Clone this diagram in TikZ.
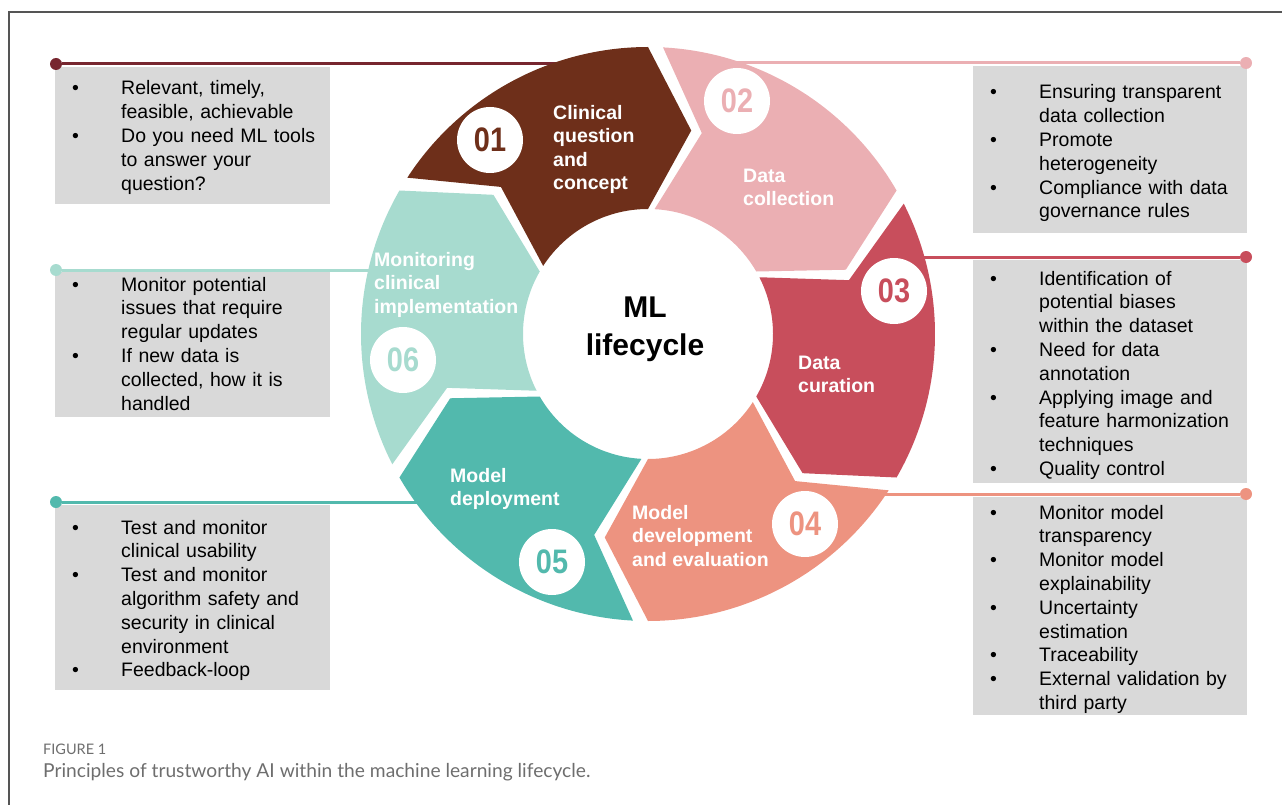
\documentclass[tikz,border=0pt]{standalone}
\usepackage{fontspec}
\setmainfont{Liberation Sans}
\newfontfamily\numfont[FakeStretch=0.85]{Liberation Sans}
\newfontfamily\capfont{Lato}

\definecolor{cbrown}{HTML}{6E2F1A}
\definecolor{cpink}{HTML}{EBAFB3}
\definecolor{cred}{HTML}{C84E5C}
\definecolor{csalmon}{HTML}{ED9380}
\definecolor{cteal}{HTML}{52B9AD}
\definecolor{cmint}{HTML}{A7DBCF}
\definecolor{cmaroon}{HTML}{77262F}
\definecolor{boxgray}{HTML}{D9D9D9}
\definecolor{framegray}{HTML}{555555}
\definecolor{capgray}{HTML}{6E6E6E}

% bullet line with hanging indent
\newcommand{\bitem}{\par\noindent\hangindent=66pt\hangafter=1%
  \makebox[66pt][l]{\rule{0pt}{16pt}\hspace{17pt}\textbullet}}

\tikzset{
  numcirc/.style={circle, fill=white, minimum size=66pt, inner sep=0pt,
    font=\numfont\bfseries\fontsize{34}{34}\selectfont},
  steplabel/.style={anchor=north west, inner sep=0pt, align=left, text=white,
    font=\bfseries\fontsize{19.5}{23.6}\selectfont},
  infobox/.style={fill=boxgray, anchor=north west, inner sep=0pt},
  infotext/.style={anchor=north west, inner sep=0pt, text width=270pt, align=left,
    font=\fontsize{19.5}{23.8}\selectfont},
  dot/.style={circle, inner sep=0pt, minimum size=12pt},
  link/.style={line width=3pt},
}

\begin{document}
\begin{tikzpicture}[x=1pt, y=1pt]
    \useasboundingbox (0,0) rectangle (1282,-805);
    \draw[framegray, line width=1.2pt] (9,-805) -- (9,-12) -- (1282,-12);

    % grey boxes with the bullet lists
    \node[infobox, minimum width=275pt, minimum height=137pt] (box1) at (55,-67) {};
    \node[infobox, minimum width=274pt, minimum height=167pt] (box2) at (973,-66) {};
    \node[infobox, minimum width=274pt, minimum height=223pt] (box3) at (973,-260) {};
    \node[infobox, minimum width=274pt, minimum height=218pt] (box4) at (973,-497) {};
    \node[infobox, minimum width=275pt, minimum height=185pt] (box5) at (55,-505) {};
    \node[infobox, minimum width=275pt, minimum height=145pt] (box6) at (55,-272) {};

    \node[infotext] (txt1) at (55,-71) {\bitem Relevant, timely,\newline feasible, achievable
        \bitem Do you need ML tools\newline to answer your\newline question?\par};
    \node[infotext] (txt2) at (973,-75) {\bitem Ensuring transparent\newline data collection
        \bitem Promote\newline heterogeneity \bitem Compliance with data\newline governance rules\par};
    \node[infotext] (txt3) at (973,-261) {\bitem Identification of\newline potential biases\newline within the dataset
        \bitem Need for data\newline annotation \bitem Applying image and\newline feature harmonization\newline techniques
        \bitem Quality control\par};
    \node[infotext] (txt4) at (973,-495) {\bitem Monitor model\newline transparency
        \bitem Monitor model\newline explainability \bitem Uncertainty\newline estimation
        \bitem Traceability \bitem External validation by\newline third party\par};
    \node[infotext] (txt5) at (55,-510) {\bitem Test and monitor\newline clinical usability
        \bitem Test and monitor\newline algorithm safety and\newline security in clinical\newline environment
        \bitem Feedback-loop\par};
    \node[infotext] (txt6) at (55,-267) {\bitem Monitor potential\newline issues that require\newline regular updates
        \bitem If new data is\newline collected, how it is\newline handled\par};

    % leader lines from the boxes into the ring
    \node[dot, fill=cmaroon] (dot1) at (56,-64) {};
    \node[dot, fill=cpink] (dot2) at (1246,-63) {};
    \node[dot, fill=cred] (dot3) at (1246,-257) {};
    \node[dot, fill=csalmon] (dot4) at (1246,-494) {};
    \node[dot, fill=cteal] (dot5) at (56,-502) {};
    \node[dot, fill=cmint] (dot6) at (56,-270) {};
    \coordinate (end1) at (600,-64);
    \coordinate (end2) at (700,-63);
    \coordinate (end3) at (900,-257);
    \coordinate (end4) at (850,-494);
    \coordinate (end5) at (440,-502);
    \coordinate (end6) at (400,-270);
    \draw[link, cmaroon] (dot1) -- (end1);
    \draw[link, cpink] (dot2) -- (end2);
    \draw[link, cred] (dot3) -- (end3);
    \draw[link, csalmon] (dot4) -- (end4);
    \draw[link, cteal] (dot5) -- (end5);
    \draw[link, cmint] (dot6) -- (end6);

    % ring of arrow segments, clockwise
    \begin{scope}[shift={(648,-334)}]
        \fill[cbrown] (147:287) arc[start angle=147, end angle=90, radius=287] -- (78:208)
            -- (90:125) arc[start angle=90, end angle=147, radius=125] -- (135:208) -- cycle;
        \fill[cpink] (87:287) arc[start angle=87, end angle=30, radius=287] -- (18:208)
            -- (30:125) arc[start angle=30, end angle=87, radius=125] -- (75:208) -- cycle;
        \fill[cred] (27:287) arc[start angle=27, end angle=-30, radius=287] -- (-42:208)
            -- (-30:125) arc[start angle=-30, end angle=27, radius=125] -- (15:208) -- cycle;
        \fill[csalmon] (-33:287) arc[start angle=-33, end angle=-90, radius=287] -- (-102:208)
            -- (-90:125) arc[start angle=-90, end angle=-33, radius=125] -- (-45:208) -- cycle;
        \fill[cteal] (-93:287) arc[start angle=-93, end angle=-150, radius=287] -- (-162:208)
            -- (-150:125) arc[start angle=-150, end angle=-93, radius=125] -- (-105:208) -- cycle;
        \fill[cmint] (-153:287) arc[start angle=-153, end angle=-210, radius=287] -- (-222:208)
            -- (-210:125) arc[start angle=-210, end angle=-153, radius=125] -- (-165:208) -- cycle;
    \end{scope}

    \node[numcirc, text=cbrown] (num1) at (490,-140) {01};
    \node[numcirc, text=cpink] (num2) at (737,-101) {02};
    \node[numcirc, text=cred] (num3) at (894,-291) {03};
    \node[numcirc, text=csalmon] (num4) at (805,-524) {04};
    \node[numcirc, text=cteal] (num5) at (552,-562) {05};
    \node[numcirc, text=cmint] (num6) at (403,-360) {06};

    \node[steplabel] (lab1) at (553,-104) {\rule{0pt}{15pt}Clinical\\question\\and\\concept};
    \node[steplabel] (lab2) at (743,-167) {\rule{0pt}{15pt}Data\\collection};
    \node[steplabel] (lab3) at (798,-354) {\rule{0pt}{15pt}Data\\curation};
    \node[steplabel] (lab4) at (632,-504) {\rule{0pt}{15pt}Model\\development\\and evaluation};
    \node[steplabel] (lab5) at (450,-467) {\rule{0pt}{15pt}Model\\deployment};
    \node[steplabel] (lab6) at (374,-251) {\rule{0pt}{15pt}Monitoring\\clinical\\implementation};

    \node[align=center, font=\bfseries\fontsize{30}{38}\selectfont] (hub) at (645,-329) {ML\\lifecycle};

    % caption
    \node[anchor=west, inner sep=0pt, text=capgray, font=\capfont\fontsize{14.5}{16}\selectfont] (fig) at (43,-749) {FIGURE 1};
    \node[anchor=west, inner sep=0pt, text=capgray, font=\capfont\fontsize{19.2}{21}\selectfont] (caption) at (43,-772)
        {Principles of trustworthy AI within the machine learning lifecycle.};
\end{tikzpicture}
\end{document}
